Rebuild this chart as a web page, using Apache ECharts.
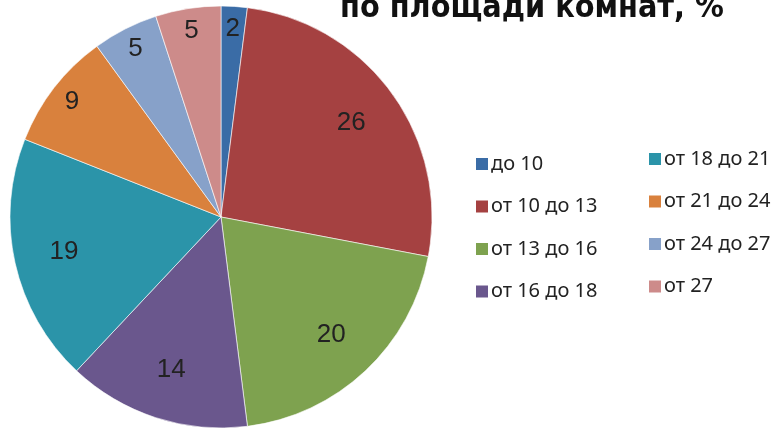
<!DOCTYPE html>
<html>
<head>
<meta charset="utf-8">
<script src="https://cdn.jsdelivr.net/npm/echarts@6/dist/echarts.min.js"></script>
<style>
  html, body { margin: 0; padding: 0; background: #fff; }
  #chart { width: 772px; height: 428px; }
</style>
</head>
<body>
<div id="chart"></div>
<script>
// категории площади комнат
const categories = ['до 10', 'от 10 до 13', 'от 13 до 16', 'от 16 до 18', 'от 18 до 21', 'от 21 до 24', 'от 24 до 27', 'от 27']
const shares = [2, 26, 20, 14, 19, 9, 5, 5]
const colors = ['#3A6CA6', '#A54141', '#7EA24F', '#6A578D', '#2B94A9', '#D9813D', '#87A1C9', '#CD8B8A']

const pieData = categories.map((name, i) => ({ name: name, value: shares[i] }))

// маленькие сектора подписываем ближе к краю, большие - глубже
function labelData(small) {
    return categories.map((name, i) => ({
        name: name,
        value: shares[i],
        label: { show: small ? shares[i] < 10 : shares[i] >= 10 }
    }))
}

const legendText = { fontFamily: 'Noto Sans', fontSize: 20, lineHeight: 16, color: '#222', padding: [0, 0, 0, -3] }
const labelStyle = {
    position: 'inside',
    formatter: '{c}',
    fontFamily: 'Liberation Sans',
    fontSize: 26,
    color: '#222'
}

let myChart = echarts.init(document.getElementById('chart'))
myChart.setOption({
    animation: false,
    color: colors,
    title: {
        text: 'по площади комнат, %',
        left: 335,
        top: -12,
        textStyle: {
            fontFamily: 'DejaVu Sans Condensed',
            fontWeight: 'bold',
            fontSize: 32,
            color: '#111'
        }
    },
    legend: [{
        orient: 'vertical',
        left: 469,
        top: 149,
        itemWidth: 14,
        itemHeight: 14,
        itemGap: 22.5,
        icon: 'rect',
        data: categories.slice(0, 4),
        textStyle: legendText
    }, {
        orient: 'vertical',
        left: 642,
        top: 144,
        itemWidth: 14,
        itemHeight: 14,
        itemGap: 22.5,
        icon: 'rect',
        data: categories.slice(4),
        textStyle: legendText
    }],
    series: [{
        type: 'pie',
        center: [221, 217],
        radius: [0, 211],
        startAngle: 90,
        clockwise: true,
        silent: true,
        label: { show: false },
        labelLine: { show: false },
        itemStyle: { borderColor: '#fff', borderWidth: 0.6 },
        data: pieData
    }, {
        // прозрачные кольца только для подписей
        type: 'pie',
        center: [221, 217],
        radius: [105, 211],
        startAngle: 90,
        clockwise: true,
        silent: true,
        itemStyle: { color: 'rgba(0,0,0,0)' },
        label: labelStyle,
        labelLine: { show: false },
        data: labelData(false)
    }, {
        type: 'pie',
        center: [221, 217],
        radius: [160, 211],
        startAngle: 90,
        clockwise: true,
        silent: true,
        itemStyle: { color: 'rgba(0,0,0,0)' },
        label: labelStyle,
        labelLine: { show: false },
        data: labelData(true)
    }]
})
</script>
</body>
</html>
